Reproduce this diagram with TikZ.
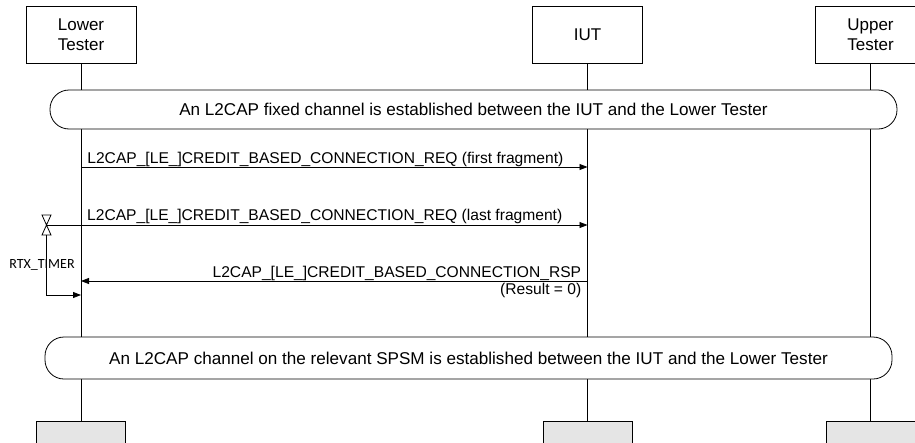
\documentclass[tikz,border=0pt]{standalone}
\usepackage{fontspec}
\setmainfont{Liberation Sans}
\newfontfamily\rtxfont{Carlito}
\usetikzlibrary{positioning, backgrounds, arrows.meta}
\tikzstyle{entity} = [rectangle, draw=black, line width=0.8pt, minimum width=110pt, minimum height=57pt,
 align=center, inner sep=0pt, font=\fontsize{17}{20.5}\selectfont]
\tikzstyle{stub} = [rectangle, draw=black, line width=0.8pt, fill=gray!20, minimum width=89pt,
 minimum height=40pt, anchor=north]
\tikzstyle{banner} = [rectangle, draw=black, line width=0.8pt, fill=white, rounded corners=19pt,
 minimum width=847pt, inner sep=0pt, font=\fontsize{17.1}{20}\selectfont]
\tikzstyle{msg} = [inner sep=0pt, font=\fontsize{15.6}{18}\selectfont]
\tikzstyle{arrow} = [line width=0.8pt,-{Triangle[length=8pt,width=6pt]}]
\tikzstyle{line} = [line width=0.8pt]

\begin{document}
\begin{tikzpicture}[x=1pt, y=-1pt]
\useasboundingbox (0,0) rectangle (915,442);
\clip (0,0) rectangle (915,442);

\node (LT) [entity] at (81,34.5) {Lower\\Tester};
\node (IUT) [entity] at (587.5,34.5) {IUT};
\node (UT) [entity] at (870.5,34.5) {Upper\\Tester};

\node (LT_END) [stub] at (81,421) {};
\node (IUT_END) [stub] at (587.5,421) {};
\node (UT_END) [stub] at (870.5,421) {};

\node (FIXED) [banner, minimum height=39pt] at (473.5,109.5)
    {An L2CAP fixed channel is established between the IUT and the Lower Tester};
\node (SPSM) [banner, minimum height=42pt] at (468.5,358)
    {An L2CAP channel on the relevant SPSM is established between the IUT and the Lower Tester};

% Lifelines
\begin{scope}[on background layer]
\draw[line] (LT) -- (LT_END);
\draw[line] (IUT) -- (IUT_END);
\draw[line] (UT) -- (UT_END);
\end{scope}

% Messages
\coordinate (REQ1_L) at (81,167);
\coordinate (REQ1_R) at (587.5,167);
\coordinate (TIMER) at (46.5,225);
\coordinate (REQ2_R) at (587.5,225);
\coordinate (RSP_R) at (587.5,281);
\coordinate (RSP_L) at (81,281);
\coordinate (EXPIRE) at (81,295);

\draw[arrow] (REQ1_L) -- node (REQ1) [msg, pos=0, anchor=base west, shift={(6pt,4pt)}]
    {L2CAP\_[LE\_]CREDIT\_BASED\_CONNECTION\_REQ (first fragment)} (REQ1_R);

\draw[arrow] (TIMER) -- (REQ2_R);
\node (REQ2) [msg, anchor=base west] at (87,220)
    {L2CAP\_[LE\_]CREDIT\_BASED\_CONNECTION\_REQ (last fragment)};

\draw[arrow] (RSP_R) -- node (RSP) [msg, pos=0, anchor=base east, shift={(-6pt,4pt)}]
    {L2CAP\_[LE\_]CREDIT\_BASED\_CONNECTION\_RSP} (RSP_L);
\node (RESULT) [msg, anchor=base east] at (581.5,294) {(Result = 0)};

% Timer
\draw[line] (TIMER) -- ++(-4.5,-10) -- ++(9,0) -- cycle;
\draw[line] (TIMER) -- ++(-4.5,10) -- ++(9,0) -- cycle;
\draw[arrow] ([yshift=-10pt]TIMER) |- (EXPIRE);
\node (RTX) [inner sep=0pt, font=\rtxfont\fontsize{14}{16}\selectfont] at (42,265) {RTX\_TIMER};

\end{tikzpicture}
\end{document}
